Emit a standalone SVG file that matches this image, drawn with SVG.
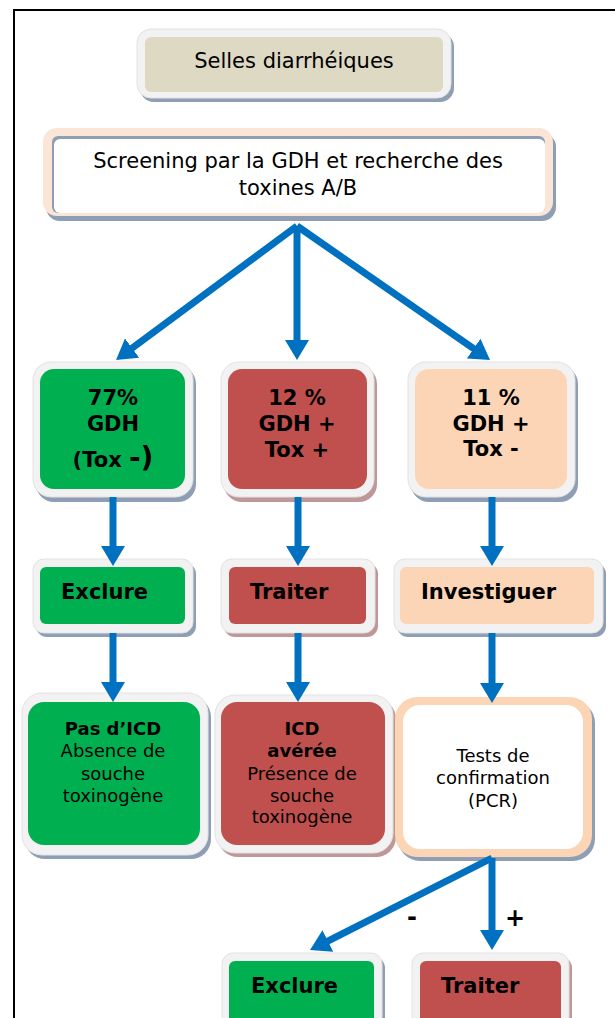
<svg xmlns="http://www.w3.org/2000/svg" width="615" height="1018" viewBox="0 0 615 1018">
<defs>
<style>
.t{font-family:"DejaVu Sans","Verdana",sans-serif;fill:#000}
.r{font-size:18px}
.b{font-weight:bold}
.sh{fill:#8e9eb4}
.shr{fill:#bf9797}
.fr{fill:#f2f2f2;stroke:#e2e2e2;stroke-width:1}
.g{fill:#00b050}
.rd{fill:#c0504d}
.pc{fill:#fbd5b5}
.cn{stroke:#0070c0;stroke-width:7;fill:none;marker-end:url(#ah)}
</style>
<marker id="ah" markerUnits="userSpaceOnUse" markerWidth="20" markerHeight="24" refX="4" refY="12" orient="auto">
<path d="M0,0 L20,12 L0,24 z" fill="#0070c0"/>
</marker>
</defs>
<rect width="615" height="1018" fill="#fff"/>
<path d="M14,1018 V10 H615" fill="none" stroke="#000" stroke-width="2"/>

<g id="selles">
<rect class="sh" x="140" y="33" width="314" height="69" rx="14"/>
<rect class="fr" x="137" y="29" width="314" height="69" rx="14"/>
<rect fill="#ddd9c3" x="145" y="37" width="298" height="55" rx="6"/>
<text class="t" x="294" y="68" font-size="21" text-anchor="middle">Selles diarrhéiques</text>
</g>

<g id="screening">
<rect class="sh" x="46" y="133" width="510" height="88" rx="14"/>
<rect fill="#fbe5d6" x="43" y="128" width="510" height="88" rx="14"/>
<rect fill="#8e9eb4" x="52" y="136" width="493" height="77" rx="6"/>
<rect fill="#fff" x="54" y="139" width="491" height="74" rx="6"/>
<text class="t" x="298" y="168" font-size="21" text-anchor="middle">Screening par la GDH et recherche des</text>
<text class="t" x="298" y="195" font-size="21" text-anchor="middle">toxines A/B</text>
</g>

<g id="n77">
<rect class="sh" x="36" y="366" width="160" height="136" rx="18"/>
<rect class="fr" x="33" y="362" width="160" height="135" rx="18"/>
<rect class="g" x="40" y="369" width="145" height="120" rx="14"/>
<text class="t b" x="113" y="405" font-size="21" text-anchor="middle">77%</text>
<text class="t b" x="113" y="431" font-size="21" text-anchor="middle">GDH</text>
<text class="t b" x="113" y="467" font-size="21" text-anchor="middle">(Tox <tspan font-size="28">-)</tspan></text>
</g>

<g id="n12">
<rect class="shr" x="224" y="366" width="153" height="136" rx="18"/>
<rect class="fr" x="221" y="362" width="153" height="135" rx="18"/>
<rect class="rd" x="228" y="369" width="139" height="120" rx="14"/>
<text class="t b" x="297" y="405" font-size="21" text-anchor="middle">12 %</text>
<text class="t b" x="297" y="431" font-size="21" text-anchor="middle">GDH +</text>
<text class="t b" x="297" y="457" font-size="21" text-anchor="middle">Tox +</text>
</g>

<g id="n11">
<rect class="sh" x="411" y="366" width="167" height="136" rx="18"/>
<rect class="fr" x="408" y="362" width="167" height="135" rx="18"/>
<rect class="pc" x="415" y="369" width="152" height="120" rx="14"/>
<text class="t b" x="491" y="405" font-size="21" text-anchor="middle">11 %</text>
<text class="t b" x="491" y="431" font-size="21" text-anchor="middle">GDH +</text>
<text class="t b" x="491" y="456" font-size="21" text-anchor="middle">Tox -</text>
</g>

<g id="exclure1">
<rect class="sh" x="36" y="563" width="160" height="74" rx="11"/>
<rect class="fr" x="33" y="559" width="160" height="74" rx="11"/>
<rect class="g" x="40" y="567" width="145" height="57" rx="6"/>
<text class="t b" x="61" y="599" font-size="21">Exclure</text>
</g>

<g id="traiter1">
<rect class="shr" x="224" y="563" width="154" height="74" rx="11"/>
<rect class="fr" x="221" y="559" width="154" height="74" rx="11"/>
<rect class="rd" x="229" y="567" width="137" height="57" rx="6"/>
<text class="t b" x="250" y="599" font-size="21">Traiter</text>
</g>

<g id="investiguer">
<rect class="sh" x="397" y="563" width="209" height="74" rx="11"/>
<rect class="fr" x="394" y="559" width="209" height="74" rx="11"/>
<rect class="pc" x="400" y="567" width="194" height="57" rx="6"/>
<text class="t b" x="421" y="599" font-size="21">Investiguer</text>
</g>

<g id="pasicd">
<rect class="sh" x="25" y="697" width="186" height="162" rx="20"/>
<rect class="fr" x="22" y="693" width="186" height="162" rx="20"/>
<rect class="g" x="28" y="702" width="172" height="143" rx="16"/>
<text class="t r b" x="113" y="735" text-anchor="middle">Pas d’ICD</text>
<text class="t r" x="113" y="757" text-anchor="middle">Absence de</text>
<text class="t r" x="113" y="780" text-anchor="middle">souche</text>
<text class="t r" x="113" y="802" text-anchor="middle">toxinogène</text>
</g>

<g id="icd">
<rect class="shr" x="218" y="699" width="178" height="158" rx="20"/>
<rect class="fr" x="215" y="695" width="178" height="158" rx="20"/>
<rect class="rd" x="221" y="702" width="164" height="143" rx="16"/>
<text class="t r b" x="302" y="735" text-anchor="middle">ICD</text>
<text class="t r b" x="302" y="757" text-anchor="middle">avérée</text>
<text class="t r" x="302" y="780" text-anchor="middle">Présence de</text>
<text class="t r" x="302" y="802" text-anchor="middle">souche</text>
<text class="t r" x="302" y="823" text-anchor="middle">toxinogène</text>
</g>

<g id="tests">
<rect class="sh" x="398" y="701" width="197" height="160" rx="22"/>
<rect class="pc" x="395" y="697" width="197" height="160" rx="22"/>
<rect fill="#fff" x="403" y="705" width="180" height="144" rx="17"/>
<text class="t r" x="493" y="762" text-anchor="middle">Tests de</text>
<text class="t r" x="493" y="784" text-anchor="middle">confirmation</text>
<text class="t r" x="493" y="807" text-anchor="middle">(PCR)</text>
</g>

<g id="exclure2">
<rect class="sh" x="225" y="957" width="160" height="75" rx="11"/>
<rect class="fr" x="222" y="953" width="160" height="75" rx="11"/>
<rect class="g" x="229" y="961" width="145" height="70" rx="6"/>
<text class="t b" x="251" y="993" font-size="21">Exclure</text>
</g>

<g id="traiter2">
<rect class="shr" x="415" y="957" width="157" height="75" rx="11"/>
<rect class="fr" x="412" y="953" width="157" height="75" rx="11"/>
<rect class="rd" x="420" y="961" width="141" height="70" rx="6"/>
<text class="t b" x="441" y="993" font-size="21">Traiter</text>
</g>

<g id="connectors">
<path class="cn" d="M297,226 L128.9,350.5"/>
<path class="cn" d="M297,226 L297,344"/>
<path class="cn" d="M297,226 L476.9,350.9"/>
<path class="cn" d="M113,497 L113,550"/>
<path class="cn" d="M298,497 L298,550"/>
<path class="cn" d="M492,497 L492,550"/>
<path class="cn" d="M113,633 L113,686"/>
<path class="cn" d="M298,633 L298,686"/>
<path class="cn" d="M492,633 L492,687"/>
<path class="cn" d="M492,858 L324.3,942.8"/>
<path class="cn" d="M492,858 L492,934"/>
<text class="t b" x="412" y="925" font-size="24" text-anchor="middle">-</text>
<text class="t b" x="515" y="926" font-size="24" text-anchor="middle">+</text>
</g>
</svg>
